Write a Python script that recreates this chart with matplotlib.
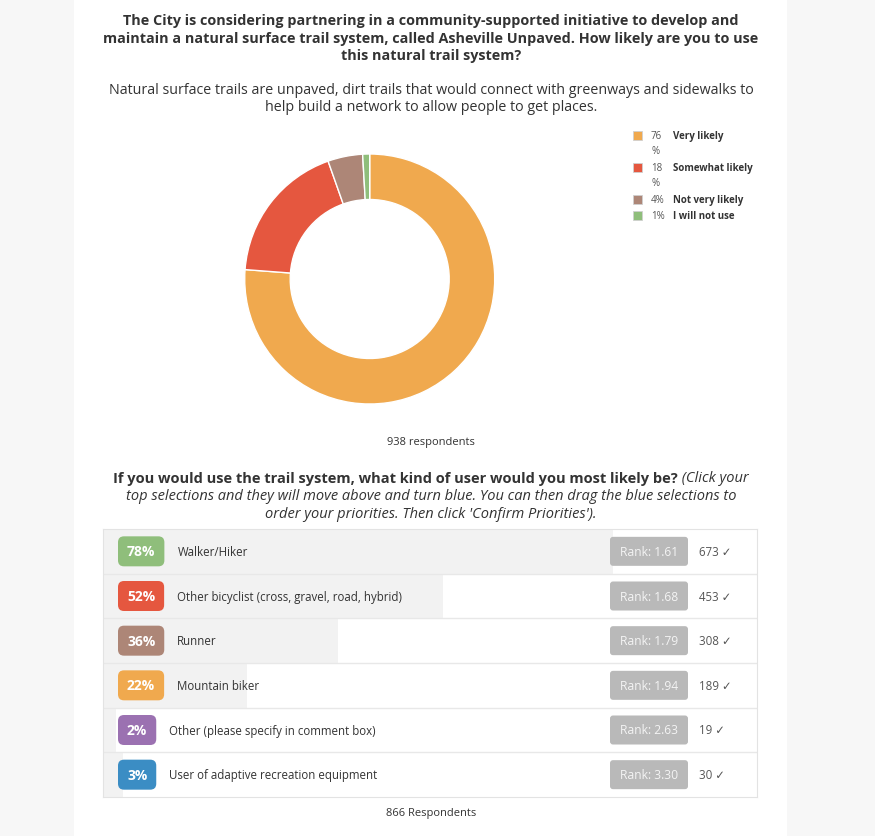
import matplotlib
matplotlib.use("Agg")
import matplotlib.pyplot as plt
from matplotlib.patches import Rectangle, FancyBboxPatch

plt.rcParams['font.family'] = ['Open Sans', 'DejaVu Sans']

# Donut question
likely_labels = ["Very likely", "Somewhat likely", "Not very likely", "I will not use"]
likely_pct_text = ["76\n%", "18\n%", "4%", "1%"]
likely_share = [76.2, 18.4, 4.5, 0.9]   # slice sizes as drawn
likely_colors = ["#f0a94e", "#e5573f", "#ad8677", "#8fbe7b"]

# Ranking question
user_labels = ["Walker/Hiker", "Other bicyclist (cross, gravel, road, hybrid)", "Runner",
               "Mountain biker", "Other (please specify in comment box)",
               "User of adaptive recreation equipment"]
user_pct = [78, 52, 36, 22, 2, 3]
user_rank = [1.61, 1.68, 1.79, 1.94, 2.63, 3.30]
user_count = [673, 453, 308, 189, 19, 30]
user_colors = ["#8fbe7b", "#e5573f", "#ad8677", "#f0a94e", "#9b71b1", "#3b8dc4"]

W, H = 875, 837
TXT = "#333333"


def px(x0, y0, w, h):
    return [x0 / W, 1 - (y0 + h) / H, w / W, h / H]


fig = plt.figure(figsize=(W / 100, H / 100), dpi=100)
fig.patch.set_facecolor("#f7f7f7")

# page background
bg = fig.add_axes([0, 0, 1, 1], zorder=0)
bg.set_xlim(0, W)
bg.set_ylim(H, 0)
bg.axis("off")
bg.add_patch(Rectangle((74, 0), 713, H, fc="white", ec="none"))

# donut
cx, cy, R = 369.7, 280, 125
pax = fig.add_axes(px(cx - R, cy - R, 2 * R, 2 * R), zorder=1)
pax.pie(likely_share, colors=likely_colors, startangle=90, counterclock=False,
        radius=1, wedgeprops=dict(width=0.364, edgecolor="white", linewidth=1))
pax.set_xlim(-1, 1)
pax.set_ylim(-1, 1)

# ranking bars
bax = fig.add_axes(px(103, 530, 654, 268), zorder=1)
bax.barh(range(len(user_pct)), user_pct, height=1, color="#f2f2f2")
bax.set_xlim(0, 100)
bax.set_ylim(len(user_pct) - 0.5, -0.5)
for i in range(len(user_pct) - 1):
    bax.axhline(i + 0.5, color="#e8e8e8", lw=1)
bax.set_xticks([])
bax.set_yticks([])
for s in bax.spines.values():
    s.set_color("#e3e3e3")

# overlay for text and badges
ov = fig.add_axes([0, 0, 1, 1], zorder=3)
ov.set_xlim(0, W)
ov.set_ylim(H, 0)
ov.axis("off")
renderer = fig.canvas.get_renderer()

title = ["The City is considering partnering in a community-supported initiative to develop and",
         "maintain a natural surface trail system, called Asheville Unpaved. How likely are you to use",
         "this natural trail system?"]
for k, line in enumerate(title):
    ov.text(431, 21 + 17.5 * k, line, ha="center", va="center", fontsize=10.35,
            fontweight="bold", color=TXT)
sub = ["Natural surface trails are unpaved, dirt trails that would connect with greenways and sidewalks to",
       "help build a network to allow people to get places."]
for k, line in enumerate(sub):
    ov.text(431, 90 + 17.5 * k, line, ha="center", va="center", fontsize=10.28, color=TXT)

# legend
leg_y = [136, 168, 200, 216]
for lab, pt, col, y in zip(likely_labels, likely_pct_text, likely_colors, leg_y):
    ov.add_patch(Rectangle((633, y - 4.5), 9, 9, fc=col, ec="#d0d0d0", lw=0.6))
    ov.text(651, y - 5.5, pt, ha="left", va="top", fontsize=7, color="#555555",
            linespacing=1.6)
    ov.text(673, y, lab, ha="left", va="center", fontsize=7, fontweight="bold", color=TXT)

ov.text(431, 443, "938 respondents", ha="center", va="center", fontsize=8, color=TXT)

# second question
q_bold = "If you would use the trail system, what kind of user would you most likely be?"
q_ital = " (Click your"
tb = ov.text(0, 479, q_bold, ha="left", va="center", fontsize=10.5, fontweight="bold", color=TXT)
ti = ov.text(0, 479, q_ital, ha="left", va="center", fontsize=10.5, style="italic", color=TXT)
wb = tb.get_window_extent(renderer).width
wi = ti.get_window_extent(renderer).width
x0 = 431 - (wb + wi) / 2
tb.set_x(x0)
ti.set_x(x0 + wb)
q2 = ["top selections and they will move above and turn blue. You can then drag the blue selections to",
      "order your priorities. Then click 'Confirm Priorities')."]
for k, line in enumerate(q2):
    ov.text(431, 497 + 17.5 * k, line, ha="center", va="center", fontsize=10.5,
            style="italic", color=TXT)

# rows
for i, (lab, p, rk, n, col) in enumerate(zip(user_labels, user_pct, user_rank,
                                              user_count, user_colors)):
    yc = H - bax.transData.transform((0, i))[1]
    t = ov.text(0, yc, f"{p}%", ha="center", va="center", fontsize=10,
                fontweight="bold", color="white", zorder=4)
    bw = t.get_window_extent(renderer).width + 18
    ov.add_patch(FancyBboxPatch((118, yc - 15), bw, 30,
                                boxstyle="round,pad=0,rounding_size=6",
                                fc=col, ec="none", zorder=3))
    t.set_x(118 + bw / 2)
    ov.text(118 + bw + 13, yc, lab, ha="left", va="center", fontsize=8.3, color=TXT)
    ov.add_patch(FancyBboxPatch((610, yc - 14.5), 78, 29,
                                boxstyle="round,pad=0,rounding_size=3",
                                fc="#b9b9b9", ec="none", zorder=3))
    ov.text(649, yc, f"Rank: {rk:.2f}", ha="center", va="center", fontsize=8.7,
            color="#f4f4f4", zorder=4)
    ov.text(699, yc, f"{n} \u2713", ha="left", va="center", fontsize=8.3, color="#555555")

ov.text(431, 814, "866 Respondents", ha="center", va="center", fontsize=8, color=TXT)

fig.savefig("out.png", dpi=100, facecolor=fig.get_facecolor())
